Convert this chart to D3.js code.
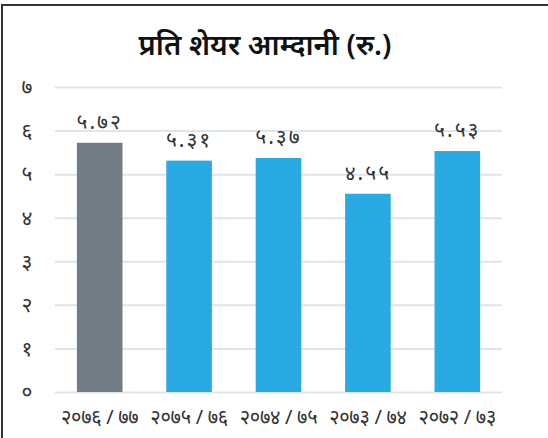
<!DOCTYPE html>
<html><head><meta charset="utf-8">
<script src="https://cdn.jsdelivr.net/npm/d3@7"></script>
<style>body{margin:0;background:#fff}svg{display:block}</style>
</head><body>
<svg id="c" width="548" height="438"></svg>
<script>
const title = "प्रति शेयर आम्दानी (रु.)";
const categories = ["२०७६/७७","२०७५/७६","२०७४/७५","२०७३/७४","२०७२/७३"];
const values = [5.72, 5.31, 5.37, 4.55, 5.53];
const valueLabels = ["५.७२","५.३१","५.३७","४.५५","५.५३"];
const yTickLabels = ["०","१","२","३","४","५","६","७"];
const barColors = ["#717c85","#29aae2","#29aae2","#29aae2","#29aae2"];

const svg = d3.select("#c");
const font = "'Noto Sans', sans-serif";
const m = {l:55, r:46, t:87, b:46};
const W = 548, H = 438;
const x = d3.scaleBand().domain(categories).range([m.l, W-m.r]).paddingInner(0.49).paddingOuter(0.245);
const y = d3.scaleLinear().domain([0,7]).range([H-m.b, m.t]);

// frame
svg.append("rect").attr("x",2).attr("y",5).attr("width",600).attr("height",500)
  .attr("fill","none").attr("stroke","#333").attr("stroke-width",2);

svg.append("text").attr("x",265).attr("y",55).attr("text-anchor","middle")
  .attr("font-family",font).attr("font-size",29).attr("font-weight",600).attr("fill","#111").text(title);

const yAxis = d3.axisLeft(y).tickValues(d3.range(0,8)).tickSize(-(W-m.l-m.r)).tickFormat(d=>yTickLabels[d]);
const gy = svg.append("g").attr("transform",`translate(${m.l},0)`).call(yAxis);
gy.select(".domain").remove();
gy.selectAll(".tick line").attr("stroke","#dfe5ec").attr("stroke-width",2);
gy.selectAll(".tick text").attr("x",-28).attr("text-anchor","middle").attr("font-family",font).attr("font-size",21).attr("fill","#333");

svg.append("g").selectAll("text").data(values).join("text")
  .attr("x",(d,i)=>x(categories[i])+x.bandwidth()/2).attr("y",d=>y(d)-14)
  .attr("text-anchor","middle").attr("font-family",font).attr("font-size",21).attr("letter-spacing",2).attr("fill","#333")
  .text((d,i)=>valueLabels[i]);

svg.append("g").selectAll("rect").data(values).join("rect")
  .attr("x",(d,i)=>x(categories[i])).attr("width",x.bandwidth())
  .attr("y",d=>y(d)).attr("height",d=>y(0)-y(d)).attr("fill",(d,i)=>barColors[i]);

const xAxis = d3.axisBottom(x).tickSize(0).tickFormat(d=>d.replace("/"," / "));
const gx = svg.append("g").attr("transform",`translate(0,${H-m.b})`).call(xAxis);
gx.select(".domain").remove();
gx.selectAll(".tick text").attr("dy",0).attr("y",32).attr("font-family",font).attr("font-size",20).attr("letter-spacing",-0.3).attr("fill","#333");
</script>
</body></html>
